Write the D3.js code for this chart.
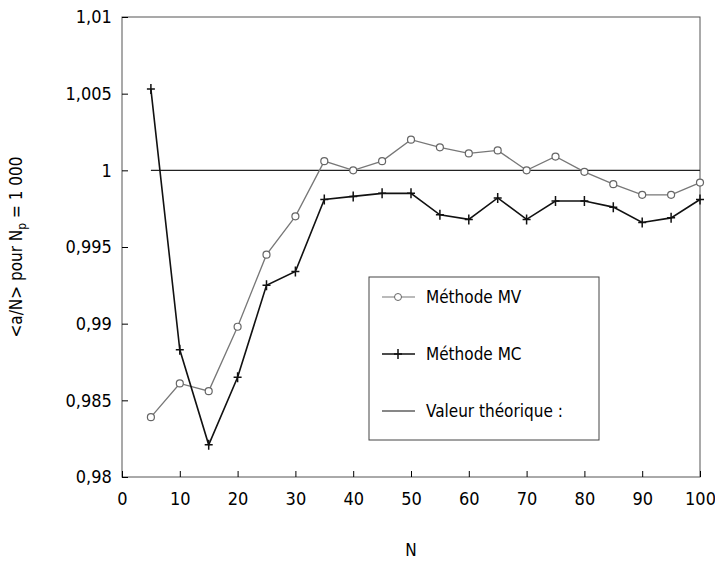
<!DOCTYPE html><html><head><meta charset="utf-8"><script src="https://cdn.jsdelivr.net/npm/d3@7"></script>
<style>body{margin:0;background:#fff}text{font-family:"Liberation Sans Narrow","DejaVu Sans Condensed",Arial,sans-serif}</style></head><body><svg id="c" width="715" height="566"></svg><script>
const N=[5,10,15,20,25,30,35,40,45,50,55,60,65,70,75,80,85,90,95,100];
const MV=[0.9839,0.9861,0.9856,0.9898,0.9945,0.997,1.0006,1.0000,1.0006,1.0020,1.0015,1.0011,1.0013,1.0000,1.0009,0.9999,0.9991,0.9984,0.9984,0.9992];
const MC=[1.0053,0.9883,0.9821,0.9865,0.9925,0.9934,0.9981,0.9983,0.9985,0.9985,0.9971,0.9968,0.9982,0.9968,0.9980,0.9980,0.9976,0.9966,0.9969,0.9981];
const theo=1;
const xTicks=[0,10,20,30,40,50,60,70,80,90,100];
const yTicks=[0.98,0.985,0.99,0.995,1,1.005,1.01];
const svg=d3.select("#c");
const L=122,R=700,T=17,B=477;
const x=d3.scaleLinear().domain([0,100]).range([L,R]);
const y=d3.scaleLinear().domain([0.98,1.01]).range([B,T]);
const fmt=v=>d3.format(".3~f")(v).replace(".",",");
svg.append("rect").attr("x",L).attr("y",T).attr("width",R-L).attr("height",B-T).attr("fill","none").attr("stroke","#555");
const gx=svg.append("g").attr("transform",`translate(0,${B})`).call(d3.axisBottom(x).tickValues(xTicks).tickSize(-6).tickSizeOuter(0));
gx.select(".domain").remove();gx.selectAll("text").attr("dy","1.4em").attr("font-size",18);
const gy=svg.append("g").attr("transform",`translate(${L},0)`).call(d3.axisLeft(y).tickValues(yTicks).tickFormat(fmt).tickSize(-6).tickSizeOuter(0));
gy.select(".domain").remove();gy.selectAll("text").attr("dx","-0.4em").attr("font-size",18);
svg.append("text").attr("x",x(50)).attr("y",556).attr("text-anchor","middle").attr("font-size",17).text("N");
const yl=svg.append("text").attr("transform",`translate(22,${(T+B)/2}) rotate(-90)`).attr("text-anchor","middle").attr("font-size",17);
yl.append("tspan").text("<a/N> pour N");yl.append("tspan").attr("font-size",12).attr("dy",4).text("p");yl.append("tspan").attr("dy",-4).text(" = 1 000");
svg.append("line").attr("x1",x(5)).attr("x2",R).attr("y1",y(theo)).attr("y2",y(theo)).attr("stroke","#222").attr("stroke-width",1.3);
const line=d3.line().x((d,i)=>x(N[i])).y(d=>y(d));
svg.append("path").attr("d",line(MV)).attr("fill","none").attr("stroke","#777").attr("stroke-width",1.3);
svg.append("path").attr("d",line(MC)).attr("fill","none").attr("stroke","#111").attr("stroke-width",1.6);
svg.selectAll(".mv").data(MV).join("circle").attr("cx",(d,i)=>x(N[i])).attr("cy",d=>y(d)).attr("r",3.5).attr("fill","#fff").attr("stroke","#666").attr("stroke-width",1.2);
const plus=(g,cx,cy)=>g.append("path").attr("d",`M${cx-4},${cy}H${cx+4}M${cx},${cy-5}V${cy+5}`).attr("stroke","#111").attr("stroke-width",1.5);
MC.forEach((d,i)=>plus(svg,x(N[i]),y(d)));
const lg=svg.append("g");
lg.append("rect").attr("x",369).attr("y",277).attr("width",230).attr("height",163).attr("fill","#fff").attr("stroke","#444");
const items=[{t:"Méthode MV",y:297},{t:"Méthode MC",y:354},{t:"Valeur théorique :",y:411}];
items.forEach((it,k)=>{
 lg.append("line").attr("x1",382).attr("x2",415).attr("y1",it.y).attr("y2",it.y).attr("stroke",k==0?"#777":"#111").attr("stroke-width",k==1?1.6:1.2);
 if(k==0)lg.append("circle").attr("cx",398).attr("cy",it.y).attr("r",3.5).attr("fill","#fff").attr("stroke","#666");
 if(k==1)plus(lg,398,it.y);
 lg.append("text").attr("x",426).attr("y",it.y+6).attr("font-size",17).text(it.t);
});
</script></body></html>
